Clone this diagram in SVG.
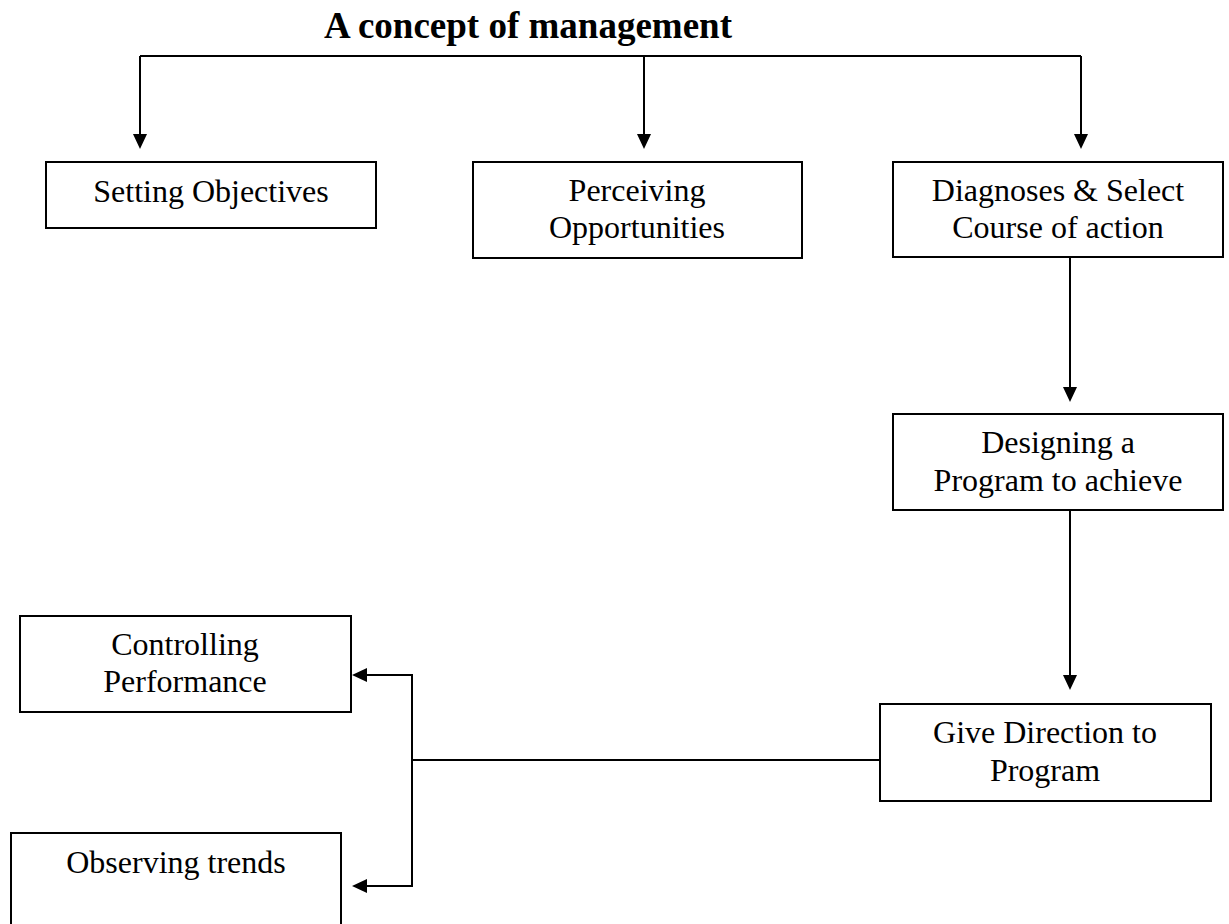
<svg xmlns="http://www.w3.org/2000/svg" width="1229" height="924" viewBox="0 0 1229 924">
<style>
.box{fill:#fff;stroke:#000;stroke-width:2}
.lbl{font-family:"Liberation Serif","Times New Roman",serif;font-size:32px;fill:#000;text-anchor:middle}
.title{font-family:"Liberation Serif","Times New Roman",serif;font-size:37px;font-weight:bold;fill:#000;text-anchor:middle}
.conn{fill:none;stroke:#000;stroke-width:2}
</style>
<defs>
<marker id="arr" markerUnits="userSpaceOnUse" markerWidth="15" markerHeight="14" refX="0" refY="7" orient="auto" overflow="visible">
<path d="M0,0 L15,7 L0,14 z" fill="#000"/>
</marker>
</defs>
<rect width="1229" height="924" fill="#fff"/>
<text class="title" x="528" y="38">A concept of management</text>
<g id="connectors">
<path class="conn" d="M140,56 H1081"/>
<path class="conn" d="M140,56 V134" marker-end="url(#arr)"/>
<path class="conn" d="M644,56 V134" marker-end="url(#arr)"/>
<path class="conn" d="M1081,56 V134" marker-end="url(#arr)"/>
<path class="conn" d="M1070,257 V387" marker-end="url(#arr)"/>
<path class="conn" d="M1070,510 V675" marker-end="url(#arr)"/>
<path class="conn" d="M880,760 H412"/>
<path class="conn" d="M412,675 V886"/>
<path class="conn" d="M413,675 H367" marker-end="url(#arr)"/>
<path class="conn" d="M413,886 H367" marker-end="url(#arr)"/>
</g>
<g id="setting">
<rect class="box" x="46" y="162" width="330" height="66"/>
<text class="lbl" x="211" y="202">Setting Objectives</text>
</g>
<g id="perceiving">
<rect class="box" x="473" y="162" width="329" height="96"/>
<text class="lbl" x="637" y="201">Perceiving</text>
<text class="lbl" x="637" y="238">Opportunities</text>
</g>
<g id="diagnoses">
<rect class="box" x="893" y="162" width="330" height="95"/>
<text class="lbl" x="1058" y="201">Diagnoses &amp; Select</text>
<text class="lbl" x="1058" y="238">Course of action</text>
</g>
<g id="designing">
<rect class="box" x="893" y="414" width="330" height="96"/>
<text class="lbl" x="1058" y="453">Designing a</text>
<text class="lbl" x="1058" y="491">Program to achieve</text>
</g>
<g id="give">
<rect class="box" x="880" y="704" width="331" height="97"/>
<text class="lbl" x="1045" y="743">Give Direction to</text>
<text class="lbl" x="1045" y="781">Program</text>
</g>
<g id="controlling">
<rect class="box" x="20" y="616" width="331" height="96"/>
<text class="lbl" x="185" y="655">Controlling</text>
<text class="lbl" x="185" y="692">Performance</text>
</g>
<g id="observing">
<rect class="box" x="11" y="833" width="330" height="100"/>
<text class="lbl" x="176" y="873">Observing trends</text>
</g>
</svg>
